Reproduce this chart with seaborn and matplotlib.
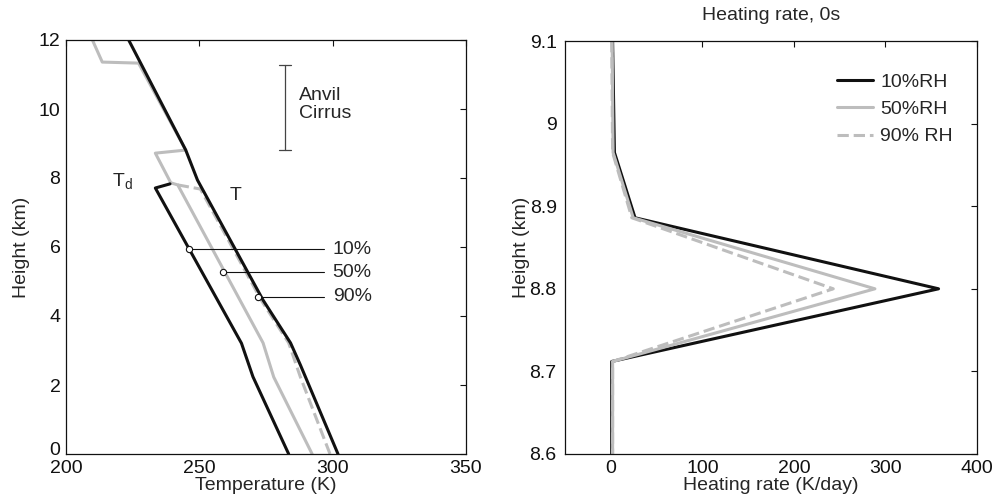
import matplotlib
matplotlib.use("Agg")
import matplotlib.pyplot as plt
from matplotlib.ticker import FuncFormatter
from matplotlib.transforms import ScaledTranslation
import numpy as np
import pandas as pd
import seaborn as sns

sns.set_theme(style="white")
plt.rcParams["font.family"] = ["Liberation Sans", "DejaVu Sans"]

# ---- Left panel: temperature / dew-point profiles ----
t_env_K = [223.5, 244.9, 249.3, 273.9, 284.2, 287.9, 302.0]
t_env_z = [12.0, 8.81, 7.94, 4.46, 3.22, 2.58, 0.0]

td10_K = [239.0, 233.5, 265.8, 270.1, 283.5]
td10_z = [7.83, 7.71, 3.21, 2.24, 0.0]

td50_K = [209.9, 213.6, 227.2, 244.9, 233.5, 239.3, 241.9, 273.9, 277.9, 292.3]
td50_z = [12.0, 11.36, 11.33, 8.81, 8.72, 7.86, 7.80, 3.22, 2.23, 0.0]

td90_K = [241.9, 250.4, 273.2, 283.5, 287.9, 299.0]
td90_z = [7.80, 7.68, 4.46, 3.22, 2.23, 0.0]

rh_labels = ["10%", "50%", "90%"]
rh_marker_K = [246.2, 258.8, 272.1]
rh_marker_z = [5.94, 5.27, 4.56]

anvil_base_km = 8.81
anvil_top_km = 11.28

# ---- Right panel: heating rate profiles ----
hr_z = [9.1, 8.965, 8.886, 8.80, 8.712, 8.6]
hr10 = [2.0, 4.0, 26.5, 358.0, 1.0, 1.0]
hr50 = [1.5, 2.5, 24.5, 288.5, 2.0, 2.0]
hr90 = [1.0, 2.0, 23.0, 243.0, 2.0, 2.0]
hr_series = ["10%RH", "50%RH", "90% RH"]

BLACK = "#111111"
GREY = "#bdbdbd"
LW = 2.2
FS = 14

fig = plt.figure(figsize=(9.95, 5.01), dpi=100)
W, H = 995, 501
ax1 = fig.add_axes([66 / W, 1 - 454 / H, 400 / W, 414 / H])
ax2 = fig.add_axes([565 / W, 1 - 454 / H, 412 / W, 413 / H])


def profile(ax, x, y, **kw):
    df = pd.DataFrame({"x": x, "y": y})
    sns.lineplot(data=df, x="x", y="y", sort=False, estimator=None, ax=ax, **kw)


# Left panel lines
profile(ax1, td90_K, td90_z, color=GREY, lw=LW, dashes=(2.0, 1.4), linestyle="--")
profile(ax1, td50_K, td50_z, color=GREY, lw=LW)
profile(ax1, td10_K, td10_z, color=BLACK, lw=LW)
profile(ax1, t_env_K, t_env_z, color=BLACK, lw=LW)

# RH callouts
label_x = 300.0
for lab, xk, zk in zip(rh_labels, rh_marker_K, rh_marker_z):
    ax1.plot([xk, label_x - 3.2], [zk, zk], color=BLACK, lw=0.8, zorder=5)
    ax1.plot(xk, zk, marker="o", ms=4.5, mfc="white", mec=BLACK, mew=0.8, zorder=6)
    ax1.text(label_x, zk, lab, fontsize=FS, va="center", ha="left")

ax1.text(221.0, 7.9, r"T$_\mathregular{d}$", fontsize=FS, ha="center", va="center")
ax1.text(263.7, 7.5, "T", fontsize=FS, ha="center", va="center")

# Anvil cirrus extent bracket
bx = 282.0
ax1.plot([bx, bx], [anvil_base_km, anvil_top_km], color="#444444", lw=0.9)
for zc in (anvil_base_km, anvil_top_km):
    ax1.plot([bx - 2.3, bx + 2.3], [zc, zc], color="#444444", lw=0.9)
ax1.text(287.5, 10.13, "Anvil\nCirrus", fontsize=FS, ha="left", va="center",
         linespacing=1.15)

ax1.set_xlim(200, 350)
ax1.set_ylim(0, 12)
ax1.set_xticks([200, 250, 300, 350])
ax1.set_yticks(np.arange(0, 13, 2))
ax1.set_xlabel("Temperature (K)", fontsize=FS, labelpad=0)
ax1.set_ylabel("Height (km)", fontsize=FS, labelpad=6)

# Right panel lines
profile(ax2, hr10, hr_z, color=BLACK, lw=LW, label=hr_series[0])
profile(ax2, hr50, hr_z, color=GREY, lw=LW, label=hr_series[1])
profile(ax2, hr90, hr_z, color=GREY, lw=LW, dashes=(2.0, 1.4), linestyle="--",
        label=hr_series[2])

ax2.set_xlim(-50, 400)
ax2.set_ylim(8.6, 9.1)
ax2.set_xticks([0, 100, 200, 300, 400])
ax2.set_yticks([8.6, 8.7, 8.8, 8.9, 9.0, 9.1])
ax2.yaxis.set_major_formatter(FuncFormatter(lambda v, p: f"{v:g}"))
ax2.set_xlabel("Heating rate (K/day)", fontsize=FS, labelpad=0)
ax2.set_ylabel("Height (km)", fontsize=FS, labelpad=0)
ax2.set_title("Heating rate, 0s", fontsize=FS, pad=15)

ax2.legend(loc="upper right", frameon=False, fontsize=FS,
           handlelength=1.85, handletextpad=0.36, labelspacing=0.5,
           bbox_to_anchor=(0.975, 0.955), borderaxespad=0.3)

for ax in (ax1, ax2):
    for s in ax.spines.values():
        s.set_visible(True)
        s.set_color(BLACK)
        s.set_linewidth(0.9)
    ax.tick_params(direction="in", length=4, width=0.8, top=True, right=True,
                   labelsize=FS, colors=BLACK, pad=4)
    ax.grid(False)
ax2.tick_params(axis="y", pad=6)

# lift the "0" height label a touch so it clears the "200" below it
fig.canvas.draw()
zero_lab = ax1.get_yticklabels()[0]
zero_lab.set_transform(zero_lab.get_transform()
                       + ScaledTranslation(0, 4 / 72, fig.dpi_scale_trans))

fig.savefig("out.png", dpi=100)
